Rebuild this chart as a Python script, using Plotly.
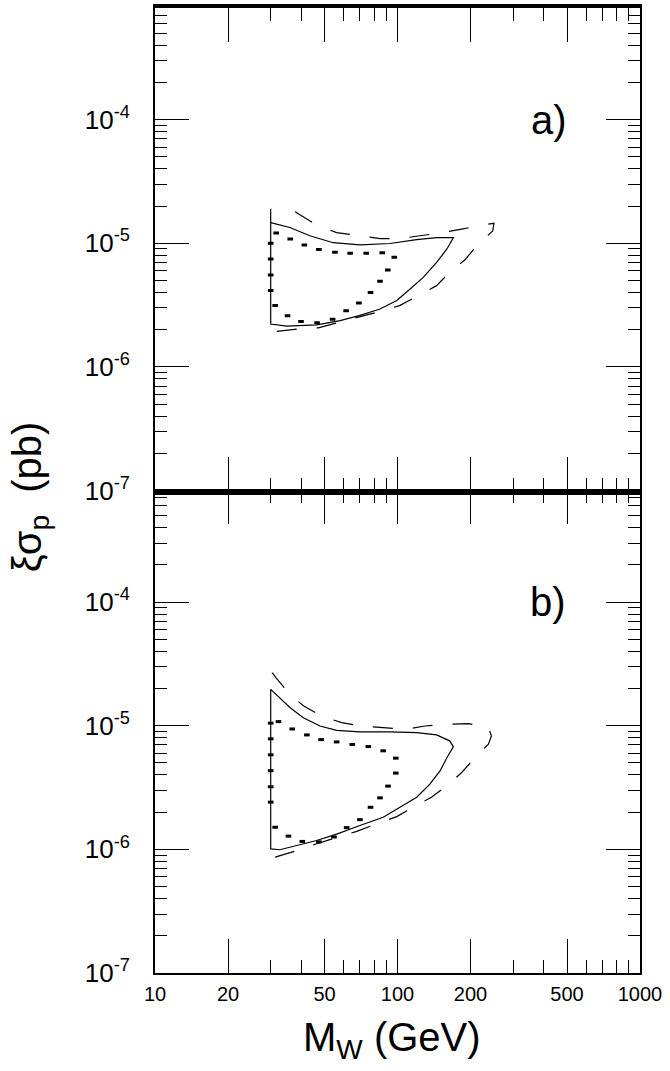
import plotly.graph_objects as go

# ---------------- data ----------------
# panel a)
a_solid_m = [30, 30, 34.9, 46.4, 58, 70, 84.7, 99.3, 112.7, 127.7, 145, 159.6, 170,
             145, 120, 93, 70, 54.3, 43.5, 36, 30]
a_solid_s = [1.9e-5, 2.22e-6, 2.14e-6, 2.19e-6, 2.37e-6, 2.61e-6, 2.94e-6, 3.44e-6, 4.27e-6,
             5.30e-6, 7.0e-6, 8.95e-6, 1.11e-5, 1.11e-5, 1.07e-5, 9.95e-6, 9.7e-6, 1.01e-5,
             1.15e-5, 1.34e-5, 1.47e-5]
a_dot_m = [31.6, 36.1, 41.3, 47.4, 55.2, 63.8, 74.3, 86.5, 97, 91.2, 84.7, 77.4, 69.3,
           61.4, 54, 46.6, 40, 35.2, 31.3, 30, 30, 30, 30]
a_dot_s = [1.21e-5, 1.08e-5, 9.66e-6, 8.91e-6, 8.47e-6, 8.32e-6, 8.32e-6, 8.38e-6, 7.69e-6,
           6.07e-6, 4.92e-6, 3.99e-6, 3.29e-6, 2.84e-6, 2.43e-6, 2.27e-6, 2.33e-6, 2.59e-6,
           3.13e-6, 4.14e-6, 5.53e-6, 7.45e-6, 1.0e-5]
a_dash_m = [31.8, 39, 47.1, 58, 70, 84.7, 102, 122, 145, 164, 190, 212, 247, 250, 226,
            184, 150, 124, 102, 84.7, 67.9, 56.1, 46.4, 39, 33.3]
a_dash_s = [1.94e-6, 2.03e-6, 2.07e-6, 2.30e-6, 2.52e-6, 2.81e-6, 3.13e-6, 3.78e-6, 4.54e-6,
            5.82e-6, 7.36e-6, 9.55e-6, 1.26e-5, 1.45e-5, 1.41e-5, 1.30e-5, 1.21e-5, 1.15e-5,
            1.09e-5, 1.09e-5, 1.15e-5, 1.22e-5, 1.40e-5, 1.72e-5, 2.10e-5]

# panel b)
b_solid_m = [30, 32.7, 36.1, 40.9, 47.9, 56.1, 70, 93.2, 120, 145, 164, 170, 160, 150,
             136, 120, 102, 87.3, 70, 56.1, 46.4, 37.2, 32.7, 30, 30]
b_solid_s = [1.97e-5, 1.69e-5, 1.40e-5, 1.16e-5, 9.95e-6, 9.18e-6, 8.91e-6, 8.91e-6, 8.81e-6,
             8.43e-6, 7.55e-6, 6.75e-6, 5.53e-6, 4.33e-6, 3.37e-6, 2.64e-6, 2.19e-6, 1.82e-6,
             1.56e-6, 1.33e-6, 1.18e-6, 1.05e-6, 9.93e-7, 1.01e-6, 1.97e-5]
b_dot_m = [32.3, 36.8, 42.3, 48.4, 56.1, 65.1, 75.8, 87.3, 98.4, 98.4, 91.4, 84.7, 77.4,
           70, 61.7, 54.7, 47.4, 40.5, 35.5, 31.3, 30, 30, 30, 30, 30, 30]
b_dot_s = [1.08e-5, 9.42e-6, 8.43e-6, 7.73e-6, 7.40e-6, 7.05e-6, 6.79e-6, 6.27e-6, 5.47e-6,
           4.14e-6, 3.25e-6, 2.61e-6, 2.19e-6, 1.74e-6, 1.50e-6, 1.26e-6, 1.15e-6, 1.16e-6,
           1.28e-6, 1.51e-6, 1.05e-5, 7.84e-6, 5.82e-6, 4.33e-6, 3.21e-6, 2.41e-6]
b_dash_m = [31.3, 37.8, 46.4, 67.9, 82.2, 99.3, 116, 138, 160, 184, 206, 237, 244, 237,
            196, 160, 130, 107, 87.3, 71.1, 58.9, 48.6, 40.9, 36.1, 31.5, 30.5, 30.2]
b_dash_s = [8.65e-7, 9.68e-7, 1.11e-6, 1.40e-6, 1.61e-6, 1.84e-6, 2.19e-6, 2.64e-6, 3.27e-6,
            4.19e-6, 5.37e-6, 7.10e-6, 8.28e-6, 9.66e-6, 1.04e-5, 1.03e-5, 9.95e-6, 9.35e-6,
            9.66e-6, 9.95e-6, 1.06e-5, 1.20e-5, 1.45e-5, 1.79e-5, 2.45e-5, 2.68e-5, 2.22e-5]

# ticks
x_major = [10, 20, 50, 100, 200, 500, 1000]
x_major_text = ["10", "20", "50", "100", "200", "500", "1000"]
x_minor = [30, 40, 60, 70, 80, 90, 300, 400, 600, 700, 800, 900]
y_major = [1e-7, 1e-6, 1e-5, 1e-4]
y_major_text = ["10<sup>-7</sup>", "10<sup>-6</sup>", "10<sup>-5</sup>", "10<sup>-4</sup>"]
y_minor = [m * 10.0 ** e for e in range(-7, -3) for m in range(2, 10)]
y_minor = [v for v in y_minor if v < 8.5e-4]
panel_labels = ["a)", "b)"]

FONT = "Liberation Sans"
BLACK = "black"

fig = go.Figure()

def add_panel(xa, ya, sm, ss, dm, ds, hm, hs):
    fig.add_trace(go.Scatter(x=sm, y=ss, xaxis=xa, yaxis=ya, mode="lines",
                             line=dict(color=BLACK, width=1.2), showlegend=False))
    fig.add_trace(go.Scatter(x=hm, y=hs, xaxis=xa, yaxis=ya, mode="lines",
                             line=dict(color=BLACK, width=1.2, dash="20px,20px"),
                             showlegend=False))
    fig.add_trace(go.Scatter(x=dm, y=ds, xaxis=xa, yaxis=ya, mode="markers",
                             marker=dict(symbol="line-ew", size=4, color=BLACK,
                                         line=dict(color=BLACK, width=3)),
                             showlegend=False))

add_panel("x", "y", a_solid_m, a_solid_s, a_dot_m, a_dot_s, a_dash_m, a_dash_s)
add_panel("x2", "y2", b_solid_m, b_solid_s, b_dot_m, b_dot_s, b_dash_m, b_dash_s)

def xaxis(anchor, show_labels, lw):
    return dict(type="log", range=[1, 3], anchor=anchor, showgrid=False, zeroline=False,
                showline=True, linecolor=BLACK, linewidth=lw, mirror="allticks",
                ticks="inside", ticklen=34, tickwidth=1.3, tickcolor=BLACK,
                tickmode="array", tickvals=x_major, ticktext=x_major_text,
                showticklabels=show_labels,
                tickfont=dict(family=FONT, size=20, color=BLACK),
                ticklabelstandoff=2,
                minor=dict(tickmode="array", tickvals=x_minor, ticklen=13, tickwidth=1.3,
                           tickcolor=BLACK, ticks="inside", showgrid=False))

def yaxis(anchor, domain):
    return dict(type="log", range=[-7, -3.097], domain=domain, anchor=anchor,
                showgrid=False, zeroline=False, showline=True, linecolor=BLACK,
                linewidth=2, mirror="allticks", ticks="inside", ticklen=34,
                tickwidth=1.3, tickcolor=BLACK, tickmode="array", tickvals=y_major,
                ticktext=y_major_text, tickfont=dict(family=FONT, size=26, color=BLACK),
                ticklabelstandoff=18,
                minor=dict(tickmode="array", tickvals=y_minor, ticklen=12, tickwidth=1.3,
                           tickcolor=BLACK, ticks="inside", showgrid=False))

fig.update_layout(
    width=670, height=1071,
    margin=dict(l=155, r=30, t=4, b=98),
    paper_bgcolor="white", plot_bgcolor="white",
    xaxis=xaxis("y", False, 3.5),
    yaxis=yaxis("x", [0.5, 1.0]),
    xaxis2=xaxis("y2", True, 1.6),
    yaxis2=yaxis("x2", [0.0, 0.5]),
    annotations=[
        dict(text="M<sub>W</sub> (GeV)", xref="paper", yref="paper", x=0.489, y=-0.069,
             xanchor="center", yanchor="middle", showarrow=False,
             font=dict(family=FONT, size=40, color=BLACK)),
        dict(text="ξσ<sub>p</sub>  (pb)", xref="paper", yref="paper", x=-0.258, y=0.493,
             xanchor="center", yanchor="middle", showarrow=False, textangle=-90,
             font=dict(family=FONT, size=40, color=BLACK)),
        dict(text=panel_labels[0], xref="x", yref="y", x=2.625, y=-4.0,
             xanchor="center", yanchor="middle", showarrow=False,
             font=dict(family=FONT, size=40, color=BLACK)),
        dict(text=panel_labels[1], xref="x2", yref="y2", x=2.62, y=-4.0,
             xanchor="center", yanchor="middle", showarrow=False,
             font=dict(family=FONT, size=40, color=BLACK)),
    ],
)

fig.write_html("out.html", config={"displayModeBar": False},
               post_script="document.body.style.margin='0px';")
